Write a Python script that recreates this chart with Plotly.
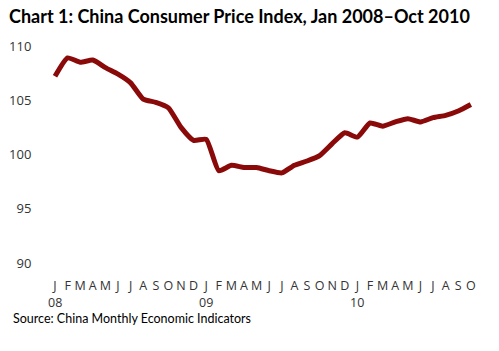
import plotly.graph_objects as go

months = ["J","F","M","A","M","J","J","A","S","O","N","D"] * 2 + ["J","F","M","A","M","J","J","A","S","O"]
years = ["08", "09", "10"]
cpi_2008 = [107.2, 108.9, 108.5, 108.7, 108.0, 107.4, 106.6, 105.1, 104.8, 104.3, 102.5, 101.3]
cpi_2009 = [101.4, 98.5, 99.0, 98.8, 98.8, 98.5, 98.3, 99.0, 99.4, 99.9, 101.0, 102.0]
cpi_2010 = [101.6, 102.9, 102.6, 103.0, 103.3, 103.0, 103.4, 103.6, 104.0, 104.6]
y_ticks = [90, 95, 100, 105, 110]

values = cpi_2008 + cpi_2009 + cpi_2010
idx = list(range(len(values)))

fig = go.Figure()
fig.add_trace(go.Scatter(
    x=idx, y=values, mode="lines",
    line=dict(color="#8a0a0a", width=5, shape="spline", smoothing=0.5),
    hoverinfo="skip", showlegend=False,
))

for i, yr in enumerate(years):
    fig.add_annotation(x=i * 12, y=-0.142, xref="x", yref="paper", text=yr,
                       showarrow=False, font=dict(family="Open Sans", size=12.5, color="#333333"),
                       xanchor="center", yanchor="middle")

fig.add_annotation(x=-0.088, y=-0.212, xref="paper", yref="paper",
                   text="Source: China Monthly Economic Indicators", showarrow=False,
                   font=dict(family="Lato", size=12.5, color="#000000"),
                   xanchor="left", yanchor="middle")

fig.update_layout(
    width=499, height=351,
    margin=dict(l=50, r=9, t=40, b=81),
    paper_bgcolor="white", plot_bgcolor="white",
    title=dict(text="<b>Chart 1: China Consumer Price Index, Jan 2008–Oct 2010</b>",
               x=0.018, xanchor="left", y=0.951, yanchor="middle",
               font=dict(family="Lato", size=18, color="#000000")),
    xaxis=dict(range=[-0.397, 34.52], tickvals=idx, ticktext=months,
               showgrid=False, zeroline=False, showline=False,
               ticks="outside", ticklen=4, tickcolor="white",
               tickfont=dict(family="Open Sans", size=12.5, color="#333333"),
               tickangle=0),
    yaxis=dict(range=[89.35, 110.55], tickvals=y_ticks, ticktext=[str(v) for v in y_ticks],
               showgrid=False, zeroline=False, showline=False,
               ticks="outside", ticklen=15, tickcolor="white",
               tickfont=dict(family="Open Sans", size=13, color="#333333")),
)

fig.write_html("out.html")
